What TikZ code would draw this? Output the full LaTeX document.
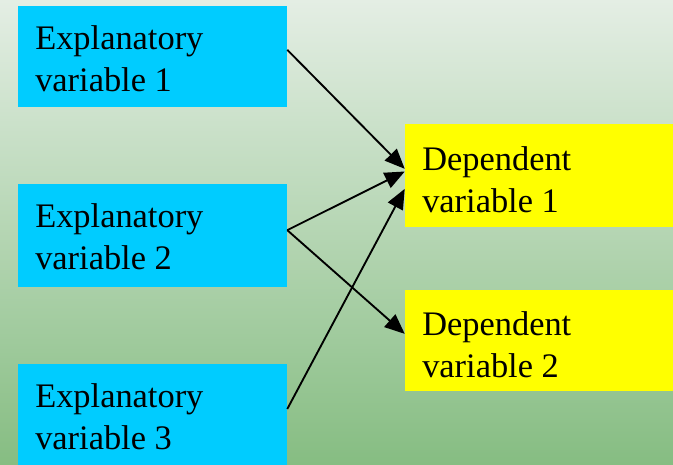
\documentclass[tikz,border=0pt]{standalone}
\usepackage{fontspec}
\setmainfont{Liberation Serif}
\usetikzlibrary{arrows.meta,fit}
\definecolor{bgtop}{HTML}{E4EEE4}
\definecolor{bgbot}{HTML}{86BD82}
\definecolor{expblue}{HTML}{00CCFF}
\definecolor{depyellow}{HTML}{FFFF00}
\begin{document}
\begin{tikzpicture}[x=0.75pt,y=-0.75pt,
  box/.style={rectangle,inner sep=0pt,draw=none},
  txt/.style={anchor=north west,align=left,inner sep=0pt,
    font=\fontsize{25.8pt}{31.5pt}\selectfont,text height=18pt},
  conn/.style={line width=1.4pt,-{Triangle[length=15pt,width=12.5pt]}}]
\useasboundingbox (0,0) rectangle (673,464);
\shade[top color=bgtop,bottom color=bgbot] (0,0) rectangle (673,464);
\begin{scope}
\clip (0,0) rectangle (673,464);
\node[box,fill=expblue,fit={(18,6) (287,107)}] (e1) {};
\node[box,fill=expblue,fit={(18,184) (287,287)}] (e2) {};
\node[box,fill=expblue,fit={(18,364) (287,466)}] (e3) {};
\node[box,fill=depyellow,fit={(405,124) (673,227)}] (d1) {};
\node[box,fill=depyellow,fit={(405,290) (673,391)}] (d2) {};
\end{scope}
\node[txt] (t1) at (35,67) {Explanatory\\variable 1};
\node[txt] (t2) at (35,245) {Explanatory\\variable 2};
\node[txt] (t3) at (35,425) {Explanatory\\variable 3};
\node[txt] (t4) at (422,188) {Dependent\\variable 1};
\node[txt] (t5) at (422,353) {Dependent\\variable 2};
\draw[conn] ([yshift=5pt]e1.east) -- ([yshift=5pt]d1.west);
\draw[conn] ([yshift=4pt]e2.east) -- ([yshift=3pt]d1.west);
\draw[conn] ([yshift=4.5pt]e3.east) -- ([yshift=-10pt]d1.west);
\draw[conn] ([yshift=4pt]e2.east) -- ([yshift=5pt]d2.west);
\end{tikzpicture}
\end{document}
